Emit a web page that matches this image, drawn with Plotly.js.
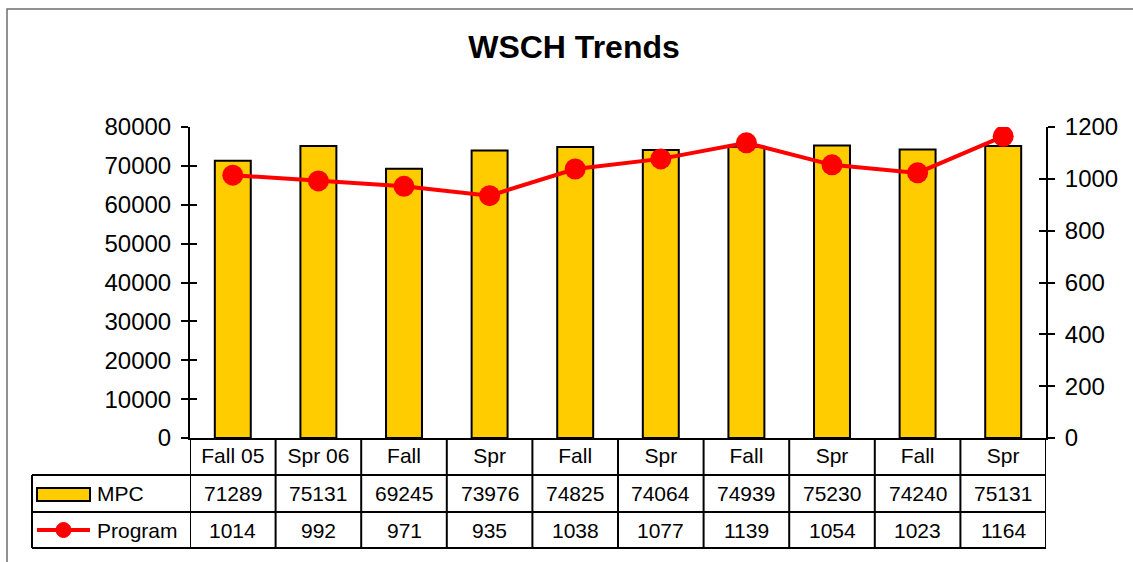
<!DOCTYPE html>
<html>
<head>
<meta charset="utf-8">
<script src="https://cdn.plot.ly/plotly-3.0.1.min.js"></script>
<style>html,body{margin:0;padding:0;background:#fff;}#chart{width:1133px;height:562px;}</style>
</head>
<body>
<div id="chart"></div>
<script>
// ---- Data ----
const categories = ["Fall 05", "Spr 06", "Fall", "Spr", "Fall", "Spr", "Fall", "Spr", "Fall", "Spr"];
const mpcValues = [71289, 75131, 69245, 73976, 74825, 74064, 74939, 75230, 74240, 75131];
const programValues = [1014, 992, 971, 935, 1038, 1077, 1139, 1054, 1023, 1164];
const seriesNames = ["MPC", "Program"];
const leftTicks = [0, 10000, 20000, 30000, 40000, 50000, 60000, 70000, 80000];
const rightTicks = [0, 200, 400, 600, 800, 1000, 1200];

// ---- Geometry helpers (pixel -> paper) ----
const W = 1133, H = 562;
const L = 190, R = 1046, T = 127, B = 438;
const px = x => (x - L) / (R - L);
const py = y => (B - y) / (B - T);

const idx = categories.map((_, i) => i);
const FONT = "Liberation Sans, Arial, sans-serif";

const traces = [
  {
    type: "bar", name: seriesNames[0], x: idx, y: mpcValues, xaxis: "x", yaxis: "y",
    width: 0.42,
    marker: {color: "#FFCC00", line: {color: "#000", width: 2}},
    hoverinfo: "y", showlegend: false
  },
  {
    type: "scatter", mode: "lines+markers", name: seriesNames[1], x: idx, y: programValues,
    xaxis: "x", yaxis: "y2",
    line: {color: "#FF0000", width: 4},
    marker: {color: "#FF0000", size: 21, symbol: "circle"},
    showlegend: false
  },
  // invisible helpers so the inner tick axes are drawn
  {type: "scatter", mode: "markers", x: idx, y: mpcValues, xaxis: "x", yaxis: "y3",
    marker: {opacity: 0}, hoverinfo: "skip", showlegend: false},
  {type: "scatter", mode: "markers", x: idx, y: programValues, xaxis: "x", yaxis: "y4",
    marker: {opacity: 0}, hoverinfo: "skip", showlegend: false}
];

const rowMpcY = py(493.5), rowProgY = py(530);
const annotations = [];
idx.forEach(i => {
  annotations.push({x: i, y: rowMpcY, xref: "x", yref: "paper", text: String(mpcValues[i]),
    showarrow: false, xanchor: "center", yanchor: "middle", font: {family: FONT, size: 21, color: "#000"}});
  annotations.push({x: i, y: rowProgY, xref: "x", yref: "paper", text: String(programValues[i]),
    showarrow: false, xanchor: "center", yanchor: "middle", font: {family: FONT, size: 21, color: "#000"}});
});
annotations.push({x: px(95), y: rowMpcY, xref: "paper", yref: "paper", text: seriesNames[0],
  showarrow: false, xanchor: "left", yanchor: "middle", font: {family: FONT, size: 21, color: "#000"}});
annotations.push({x: px(95), y: rowProgY, xref: "paper", yref: "paper", text: seriesNames[1],
  showarrow: false, xanchor: "left", yanchor: "middle", font: {family: FONT, size: 21, color: "#000"}});

const lineStyle = {color: "#000", width: 2};
const shapes = [];
// outer frame
shapes.push({type: "rect", xref: "paper", yref: "paper", x0: px(7), x1: px(1200), y0: py(9), y1: py(700),
  line: {color: "#6e6e6e", width: 1.5}, fillcolor: "rgba(0,0,0,0)", layer: "below"});
// table horizontal lines
[475, 512, 548].forEach(yy => {
  shapes.push({type: "line", xref: "paper", yref: "paper", x0: px(32), x1: 1, y0: py(yy), y1: py(yy), line: lineStyle});
});
// left column border
shapes.push({type: "line", xref: "paper", yref: "paper", x0: px(32), x1: px(32), y0: py(475), y1: py(548), line: lineStyle});
// category column borders
for (let i = 0; i <= categories.length; i++) {
  shapes.push({type: "line", xref: "x", yref: "paper", x0: i - 0.5, x1: i - 0.5, y0: 0, y1: py(548), line: lineStyle});
}
// legend keys
shapes.push({type: "rect", xref: "paper", yref: "paper", x0: px(37), x1: px(90), y0: py(488), y1: py(501),
  fillcolor: "#FFCC00", line: {color: "#000", width: 2}});
shapes.push({type: "line", xref: "paper", yref: "paper", x0: px(37), x1: px(90), y0: rowProgY, y1: rowProgY,
  line: {color: "#FF0000", width: 4}});
shapes.push({type: "circle", xref: "paper", yref: "paper", x0: px(63.5 - 7.5), x1: px(63.5 + 7.5),
  y0: rowProgY - 7.5 / (B - T), y1: rowProgY + 7.5 / (B - T), fillcolor: "#FF0000", line: {color: "#FF0000", width: 1}});

const tickFont = {family: FONT, size: 24, color: "#000"};
const layout = {
  width: W, height: H,
  margin: {l: L, r: W - R, t: T, b: H - B, pad: 0},
  paper_bgcolor: "#fff", plot_bgcolor: "#fff",
  title: {text: "<b>WSCH Trends</b>", x: 574 / W, xref: "container", xanchor: "center",
    y: 1 - 47 / H, yref: "container", yanchor: "middle", font: {family: FONT, size: 32, color: "#000"}},
  bargap: 0.58,
  xaxis: {
    range: [-0.5, categories.length - 0.5], tickvals: idx, ticktext: categories,
    showgrid: false, zeroline: false, showline: true, linecolor: "#000", linewidth: 2,
    ticks: "", tickfont: {family: FONT, size: 21, color: "#000"}, ticklabelstandoff: -2, fixedrange: true
  },
  yaxis: {
    range: [0, 80000], tickvals: leftTicks, ticktext: leftTicks.map(String),
    showgrid: false, zeroline: false, showline: true, linecolor: "#000", linewidth: 2,
    ticks: "outside", ticklen: 7, tickwidth: 2, tickcolor: "#000", tickfont: tickFont, ticklabelstandoff: 5
  },
  yaxis2: {
    range: [0, 1200], tickvals: rightTicks, ticktext: rightTicks.map(String), overlaying: "y", side: "right",
    showgrid: false, zeroline: false, showline: true, linecolor: "#000", linewidth: 2,
    ticks: "outside", ticklen: 7, tickwidth: 2, tickcolor: "#000", tickfont: tickFont, ticklabelstandoff: 5
  },
  yaxis3: {
    range: [0, 80000], tickvals: leftTicks, overlaying: "y", side: "left", anchor: "x",
    showgrid: false, zeroline: false, showline: false, showticklabels: false,
    ticks: "inside", ticklen: 7, tickwidth: 2, tickcolor: "#000"
  },
  yaxis4: {
    range: [0, 1200], tickvals: rightTicks, overlaying: "y", side: "right", anchor: "x",
    showgrid: false, zeroline: false, showline: false, showticklabels: false,
    ticks: "inside", ticklen: 7, tickwidth: 2, tickcolor: "#000"
  },
  shapes: shapes,
  annotations: annotations,
  showlegend: false
};

Plotly.newPlot("chart", traces, layout, {displayModeBar: false, staticPlot: true});
</script>
</body>
</html>
